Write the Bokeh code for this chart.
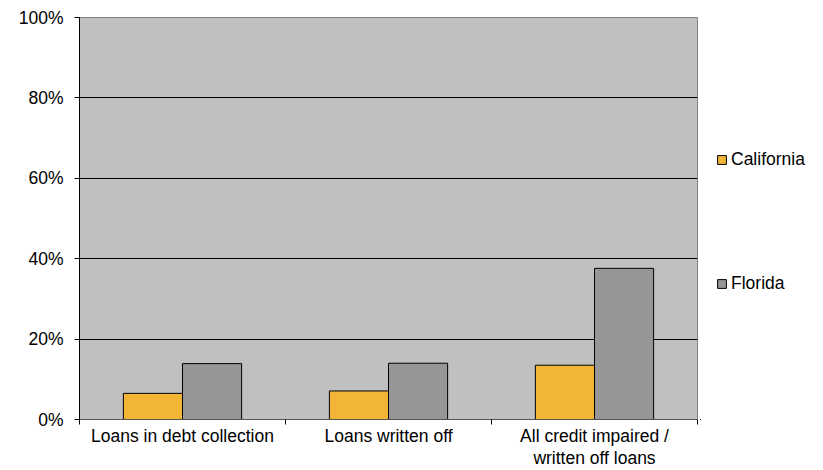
from bokeh.plotting import figure
from bokeh.layouts import row
from bokeh.models import ColumnDataSource, FixedTicker, NumeralTickFormatter, Range1d, Legend, LegendItem
from bokeh.transform import dodge
from bokeh.embed import file_html
from bokeh.resources import INLINE

categories = ["Loans in debt collection", "Loans written off", "All credit impaired /\nwritten off loans"]
california = [0.065, 0.071, 0.135]
florida = [0.139, 0.140, 0.376]
y_ticks = [0, 0.2, 0.4, 0.6, 0.8, 1.0]
series_names = ["California", "Florida"]

FONT = "Liberation Sans"
FS = "17.5px"
CA_COLOR = "#F2B535"
FL_COLOR = "#969696"

xs = [i + 0.5 for i in range(len(categories))]
source = ColumnDataSource(dict(x=xs, ca=california, fl=florida))

p = figure(width=700, height=470, output_backend="svg", toolbar_location=None,
           x_range=Range1d(0, len(categories)), y_range=Range1d(0, 1))
p.min_border_left = 79
p.min_border_top = 17
p.min_border_right = 3
p.min_border_bottom = 50
p.background_fill_color = "#C0C0C0"
p.border_fill_color = "white"
p.outline_line_color = "#808080"
p.outline_line_width = 1

bw = 0.287
p.vbar(x=dodge("x", -bw / 2, range=p.x_range), top="ca", width=bw, source=source,
       fill_color=CA_COLOR, line_color="black", line_width=1)
p.vbar(x=dodge("x", bw / 2, range=p.x_range), top="fl", width=bw, source=source,
       fill_color=FL_COLOR, line_color="black", line_width=1)

# x axis
p.xaxis.ticker = FixedTicker(ticks=xs, minor_ticks=list(range(len(categories) + 1)))
p.xaxis.major_label_overrides = {x: c for x, c in zip(xs, categories)}
p.xaxis.major_tick_line_color = None
p.xaxis.major_tick_out = 5
p.xaxis.major_tick_in = 0
p.xaxis.minor_tick_line_color = "black"
p.xaxis.minor_tick_out = 5
p.xaxis.minor_tick_in = 0
p.xaxis.axis_line_color = "#555555"
p.xaxis.major_label_standoff = 1
p.xaxis.major_label_text_font = FONT
p.xaxis.major_label_text_font_size = FS
p.xaxis.major_label_text_line_height = 1.1
p.xaxis.major_label_text_color = "black"
p.xgrid.grid_line_color = None

# y axis
p.yaxis.ticker = FixedTicker(ticks=y_ticks)
p.yaxis.formatter = NumeralTickFormatter(format="0%")
p.yaxis.major_tick_out = 5
p.yaxis.major_tick_in = 0
p.yaxis.minor_tick_line_color = None
p.yaxis.axis_line_color = "black"
p.yaxis.major_tick_line_color = "black"
p.yaxis.major_label_standoff = 11
p.yaxis.major_label_text_font = FONT
p.yaxis.major_label_text_font_size = FS
p.yaxis.major_label_text_color = "black"
p.ygrid.grid_line_color = "black"
p.ygrid.grid_line_width = 1

# legend panel (separate figure to the right)
q = figure(width=123, height=470, output_backend="svg", toolbar_location=None,
           x_range=Range1d(100, 101), y_range=Range1d(100, 101))
q.min_border_left = 0
q.min_border_right = 0
q.min_border_top = 0
q.min_border_bottom = 0
q.axis.visible = False
q.grid.grid_line_color = None
q.outline_line_color = None
q.background_fill_color = "white"
q.border_fill_color = "white"
l_ca = q.vbar(x="x", top="ca", width=bw, source=source,
              fill_color=CA_COLOR, line_color="black", line_width=1)
l_fl = q.vbar(x="x", top="fl", width=bw, source=source,
              fill_color=FL_COLOR, line_color="black", line_width=1)

lg = Legend(items=[LegendItem(label=series_names[0], renderers=[l_ca]),
                   LegendItem(label=series_names[1], renderers=[l_fl])])
lg.location = (16, 125)
lg.orientation = "vertical"
lg.padding = 0
lg.margin = 0
lg.spacing = 103
lg.glyph_width = 11
lg.glyph_height = 11
lg.label_height = 20
lg.label_standoff = 4
lg.label_text_font = FONT
lg.label_text_font_size = FS
lg.label_text_color = "black"
lg.background_fill_alpha = 0
lg.border_line_color = None
q.add_layout(lg, "center")

layout = row(p, q)
open("out.html", "w").write(file_html(layout, INLINE))
